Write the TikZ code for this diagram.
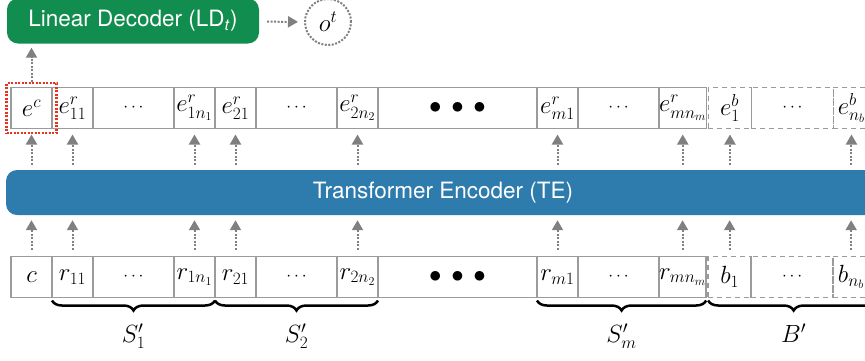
\documentclass[tikz,border=0pt]{standalone}
\usepackage{fontspec}
\setsansfont{TeX Gyre Heros}
\usetikzlibrary{positioning,fit,arrows.meta,decorations.pathreplacing}

\definecolor{ldgreen}{RGB}{17,141,79}
\definecolor{teblue}{RGB}{46,123,173}
\definecolor{cellgray}{RGB}{155,155,155}
\definecolor{flowgray}{RGB}{128,128,128}
\definecolor{selred}{RGB}{232,52,30}

\begin{document}
\begin{tikzpicture}[x=1pt, y=-1pt,
  cell/.style={draw=cellgray, line width=1.9pt, minimum width=41pt, minimum height=41pt,
    inner sep=0pt, outer sep=0pt, font=\fontsize{25}{27}\selectfont},
  wcell/.style={cell, minimum width=81pt, font=\fontsize{16}{18}\selectfont},
  bigcell/.style={cell, minimum width=159pt},
  dcell/.style={dash pattern=on 5pt off 4pt},
  block/.style={rounded corners=11pt, text=white, minimum height=45pt,
    font=\sffamily\fontsize{22.5}{26}\selectfont},
  flow/.style={flowgray, line width=2pt, dash pattern=on 2pt off 1.5pt,
    -{Triangle[width=11pt,length=10pt]}},
  brc/.style={decorate, decoration={brace, mirror, amplitude=10pt, raise=3pt}, line width=2.5pt},
  lbl/.style={font=\fontsize{27}{29}\selectfont}]
  \useasboundingbox (0,0) rectangle (865,360);
  \clip (0,0) rectangle (865,360);

  % Decoder and output
  \node[block, fill=ldgreen, minimum width=252pt] (ld) at (133,21) {Linear Decoder (LD\textsubscript{\textit{t}})};
  \node[circle, draw=flowgray, line width=2pt, dash pattern=on 2pt off 1.5pt, minimum size=46pt,
    inner sep=0pt, font=\fontsize{25}{27}\selectfont] (ot) at (328,22) {$o^t$};

  % Encoder
  \node[block, fill=teblue, minimum width=874pt] (te) at (443,192.5) {Transformer Encoder (TE)};

  % Output embeddings
  \node[cell] (ec) at (31.5,108) {$e^c$};
  \node[cell, right=0pt of ec] (er11) {$e^r_{11}$};
  \node[wcell, right=0pt of er11] (ed1) {$\cdots$};
  \node[cell, right=0pt of ed1] (er1n) {$e^r_{1n_1}$};
  \node[cell, right=0pt of er1n] (er21) {$e^r_{21}$};
  \node[wcell, right=0pt of er21] (ed2) {$\cdots$};
  \node[cell, right=0pt of ed2] (er2n) {$e^r_{2n_2}$};
  \node[bigcell, right=0pt of er2n] (emid) {$\bullet\,\bullet\,\bullet$};
  \node[cell, right=0pt of emid] (erm1) {$e^r_{m1}$};
  \node[wcell, right=0pt of erm1] (edm) {$\cdots$};
  \node[cell, right=0pt of edm] (ermn) {$e^r_{mn_m}$};
  \node[cell, dcell, minimum width=43pt, right=2pt of ermn] (eb1) {$e^b_1$};
  \node[wcell, dcell, minimum width=82pt, right=0pt of eb1] (edb) {$\cdots$};
  \node[cell, dcell, minimum width=36pt, right=0pt of edb] (ebn) {$e^b_{n_b}$};
  \node[fit=(ec), draw=selred, line width=2.5pt, dash pattern=on 2pt off 1.5pt, inner sep=4.5pt] (sel) {};

  % Input sequence
  \node[cell] (c) at (31.5,277) {$c$};
  \node[cell, right=0pt of c] (r11) {$r_{11}$};
  \node[wcell, right=0pt of r11] (d1) {$\cdots$};
  \node[cell, right=0pt of d1] (r1n) {$r_{1n_1}$};
  \node[cell, right=0pt of r1n] (r21) {$r_{21}$};
  \node[wcell, right=0pt of r21] (d2) {$\cdots$};
  \node[cell, right=0pt of d2] (r2n) {$r_{2n_2}$};
  \node[bigcell, right=0pt of r2n] (mid) {$\bullet\,\bullet\,\bullet$};
  \node[cell, right=0pt of mid] (rm1) {$r_{m1}$};
  \node[wcell, right=0pt of rm1] (dm) {$\cdots$};
  \node[cell, right=0pt of dm] (rmn) {$r_{mn_m}$};
  \node[cell, dcell, minimum width=43pt, right=2pt of rmn] (b1) {$b_1$};
  \node[wcell, dcell, minimum width=82pt, right=0pt of b1] (db) {$\cdots$};
  \node[cell, dcell, minimum width=36pt, right=0pt of db] (bn) {$b_{n_b}$};

  % Flows through the encoder
  \foreach \n in {c,r11,r1n,r21,r2n,rm1,rmn,b1,bn} {
    \draw[flow, shorten <=7pt, shorten >=5pt] (\n.north) -- (\n.north |- te.south);
    \draw[flow, shorten <=5pt, shorten >=6pt] (e\n.south |- te.north) -- (e\n.south);
  }
  \draw[flow, shorten >=4pt] (sel.north) -- (sel.north |- ld.south);
  \draw[flow, shorten <=8pt, shorten >=6pt] (ld) -- (ot);

  % Braces
  \draw[brc] (r11.south west) -- node[lbl, below=22pt] (s1) {$S'_1$} (r1n.south east);
  \draw[brc] (r21.south west) -- node[lbl, below=22pt] (s2) {$S'_2$} (r2n.south east);
  \draw[brc] (rm1.south west) -- node[lbl, below=22pt] (sm) {$S'_m$} (rmn.south east);
  \draw[brc] (b1.south west) -- node[lbl, below=22pt] (bp) {$B'$} ([xshift=10pt]bn.south east);
\end{tikzpicture}
\end{document}
